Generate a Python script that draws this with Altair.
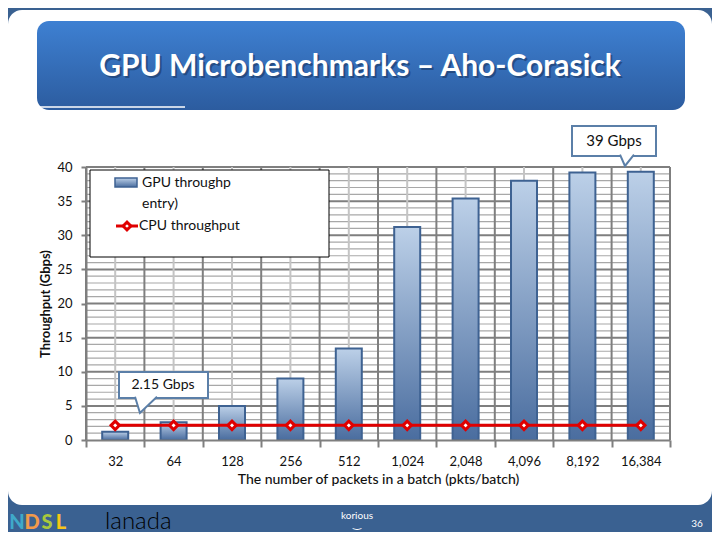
import altair as alt
import pandas as pd

# ---------------- data ----------------
batch = ["32", "64", "128", "256", "512", "1,024", "2,048", "4,096", "8,192", "16,384"]
gpu = [1.2, 2.6, 5.0, 9.0, 13.4, 31.2, 35.4, 38.0, 39.2, 39.3]
cpu = [2.15, 2.15, 2.15, 2.15, 2.15, 2.15, 2.15, 2.15, 2.15, 2.15]
y_ticks = [0, 5, 10, 15, 20, 25, 30, 35, 40]
minor_lines = [v for v in range(1, 41) if v % 5 != 0]
major_lines = [5, 10, 15, 20, 25, 30, 35, 40]

title_text = "GPU Microbenchmarks \u2013 Aho-Corasick"
x_title = "The number of packets in a batch (pkts/batch)"
y_title = "Throughput (Gbps)"

FONT = "Lato"
W, H = 584, 273
STEP = W / len(batch)

df = pd.DataFrame({"batch": batch, "gpu": gpu, "cpu": cpu})
one = pd.DataFrame({"k": [0]})

xs = alt.Scale(domain=batch, paddingInner=0, paddingOuter=0)
ys = alt.Scale(domain=[0, 40], nice=False, zero=True)

x_axis = alt.Axis(title=x_title, labelAngle=0, tickBand="extent", tickSize=7,
                  tickColor="#7f7f7f", tickWidth=2, domainColor="#7f7f7f", domainWidth=2,
                  labelFont=FONT, labelFontSize=13, labelColor="#111111", labelPadding=8,
                  titleFont=FONT, titleFontSize=14, titleFontWeight=500, titleColor="#111111",
                  titlePadding=4, grid=False, zindex=1)
y_axis = alt.Axis(values=y_ticks, title=y_title, tickSize=5, tickColor="#7f7f7f",
                  tickWidth=2, domainColor="#7f7f7f", domainWidth=2,
                  labelFont=FONT, labelFontSize=13, labelColor="#111111", labelPadding=9,
                  titleFont=FONT, titleFontSize=13, titleFontWeight="bold", titleColor="#111111",
                  titlePadding=4, grid=False, zindex=1)

X = alt.X("batch:N", scale=xs, sort=batch, axis=x_axis)


def Y(field):
    return alt.Y(field, scale=ys, axis=y_axis)


def box(x1, x2, y1, y2, **kw):
    return alt.Chart(one).mark_rect(**kw).encode(
        x=alt.value(x1), x2=alt.value(x2), y=alt.value(y1), y2=alt.value(y2))


def txt(s, x, y, **kw):
    return alt.Chart(one).mark_text(text=s, **kw).encode(x=alt.value(x), y=alt.value(y))


# ---------------- slide decorations ----------------
panel = box(-78, 626, -157, 338, color="white", cornerRadius=14)

banner = box(-49, 599, -146, -57, cornerRadius=12,
             color=alt.Gradient(gradient="linear", x1=0, x2=0, y1=0, y2=1,
                                stops=[alt.GradientStop(color="#3e80d2", offset=0),
                                       alt.GradientStop(color="#2c5c9f", offset=1)]))
banner_line = alt.Chart(one).mark_rule(color="white", strokeWidth=1.5).encode(
    x=alt.value(-47), x2=alt.value(99), y=alt.value(-60))
title_shadow = txt(title_text, 276, -98, font=FONT, fontSize=30, fontWeight="bold",
                   color="#1b3864", opacity=0.6, align="center", baseline="middle")
title = txt(title_text, 274, -100, font=FONT, fontSize=30, fontWeight="bold",
            color="white", align="center", baseline="middle")

# ---------------- grid ----------------
hminor = alt.Chart(pd.DataFrame({"v": minor_lines})).mark_rule(
    color="#a8a8a8", strokeWidth=1.2).encode(
    y=Y("v:Q"), x=alt.value(0), x2=alt.value(W))
hmajor = alt.Chart(pd.DataFrame({"v": major_lines})).mark_rule(
    color="#7f7f7f", strokeWidth=2).encode(
    y=Y("v:Q"), x=alt.value(0), x2=alt.value(W))
vcenter = alt.Chart(df).mark_rule(color="#c4c4c4", strokeWidth=2).encode(
    x=X, y=alt.value(0), y2=alt.value(H))
vbound = alt.Chart(df).mark_rule(color="#7f7f7f", strokeWidth=2, xOffset=-STEP / 2).encode(
    x=X, y=alt.value(0), y2=alt.value(H))
vright = alt.Chart(one).mark_rule(color="#7f7f7f", strokeWidth=2).encode(
    x=alt.value(W), y=alt.value(0), y2=alt.value(H))

# ---------------- data marks ----------------
bar_grad = alt.Gradient(gradient="linear", x1=0, x2=0, y1=0, y2=1,
                        stops=[alt.GradientStop(color="#bcd0e8", offset=0),
                               alt.GradientStop(color="#4a6d9f", offset=1)])

bars = alt.Chart(df).mark_bar(width=26, color=bar_grad, stroke="#3e6292", strokeWidth=2).encode(
    x=X, y=Y("gpu:Q"))

cpu_line = alt.Chart(df).mark_line(color="#e00000", strokeWidth=3).encode(
    x=X, y=Y("cpu:Q"))
cpu_pts = alt.Chart(df).mark_point(shape="diamond", filled=True, fill="white", stroke="#e00000",
                                   strokeWidth=3, size=70, opacity=1).encode(
    x=X, y=Y("cpu:Q"))

# ---------------- legend ----------------
leg_box = box(4, 243, 3, 90, color="white", stroke="black", strokeWidth=1)
leg_bar = box(29, 51, 11, 20, color=bar_grad, stroke="#3e6292", strokeWidth=1.5)
leg_t1 = txt("GPU throughp", 56, 16, font=FONT, fontSize=14, color="#111111",
             align="left", baseline="middle")
leg_t2 = txt("entry)", 56, 37, font=FONT, fontSize=14, color="#111111",
             align="left", baseline="middle")
leg_line = alt.Chart(one).mark_rule(color="#e00000", strokeWidth=3).encode(
    x=alt.value(30), x2=alt.value(52), y=alt.value(59))
leg_pt = alt.Chart(one).mark_point(shape="diamond", filled=True, fill="white", stroke="#e00000",
                                   strokeWidth=3, size=60, opacity=1).encode(
    x=alt.value(41), y=alt.value(59))
leg_t3 = txt("CPU throughput", 53, 59, font=FONT, fontSize=14, color="#111111",
             align="left", baseline="middle")

# ---------------- callouts ----------------
CB = "#5b7fa8"
c1_box = box(33, 122, 205, 231, color="white", stroke=CB, strokeWidth=2)
c1_ptr = alt.Chart(one).mark_point(shape="M-1,-0.8L-0.55,0.68L1,-0.8", size=484, filled=True,
                                   fill="white", stroke=CB, strokeWidth=2, opacity=1).encode(
    x=alt.value(60), y=alt.value(238.5))
c1_txt = txt("2.15 Gbps", 77, 218, font=FONT, fontSize=14, color="#111111",
             align="center", baseline="middle")

c2_box = box(486, 570, -41, -11, color="white", stroke=CB, strokeWidth=2)
c2_ptr = alt.Chart(one).mark_point(shape="M-1,-0.9L-0.29,0.71L1,-0.9", size=196, filled=True,
                                   fill="white", stroke=CB, strokeWidth=2, opacity=1).encode(
    x=alt.value(541), y=alt.value(-6))
c2_txt = txt("39 Gbps", 528, -26, font=FONT, fontSize=15, color="#111111",
             align="center", baseline="middle")

# ---------------- footer ----------------
f_n = txt("N", -69, 356, font=FONT, fontSize=20, fontWeight=900, color="#3fa9c9",
          align="center", baseline="middle")
f_d = txt("D", -54, 356, font=FONT, fontSize=20, fontWeight=900, color="#f29a4a",
          align="center", baseline="middle")
f_s = txt("S", -39, 356, font=FONT, fontSize=20, fontWeight=900, color="#a8c93c",
          align="center", baseline="middle")
f_l = txt("L", -25, 356, font=FONT, fontSize=20, fontWeight=900, color="#f5c518",
          align="center", baseline="middle")
f_lanada = txt("lanada", 19, 355, font=FONT, fontSize=24, fontWeight=300, color="black",
               align="left", baseline="middle")
f_logo = txt("korious", 271, 349, font=FONT, fontSize=10, color="white",
             align="center", baseline="middle")
f_smile = txt("\u203f", 271, 357, font="DejaVu Sans", fontSize=10, color="white",
              align="center", baseline="middle")
f_page = txt("36", 611, 357, font=FONT, fontSize=10, color="white",
             align="center", baseline="middle")

chart = alt.layer(
    panel, banner, banner_line, title_shadow, title,
    hminor, hmajor, vcenter, vbound, vright,
    bars, cpu_line, cpu_pts,
    leg_box, leg_bar, leg_t1, leg_t2, leg_line, leg_pt, leg_t3,
    c1_box, c1_ptr, c1_txt, c2_box, c2_ptr, c2_txt,
    f_n, f_d, f_s, f_l, f_lanada, f_logo, f_smile, f_page,
).properties(
    width=W, height=H,
    padding={"left": 78, "top": 159, "right": 42, "bottom": 92},
    autosize=alt.AutoSizeParams(type="none"),
).configure(background="#3a6191").configure_view(stroke=None)

chart.save("out.html", embed_options={"renderer": "svg", "actions": False})
